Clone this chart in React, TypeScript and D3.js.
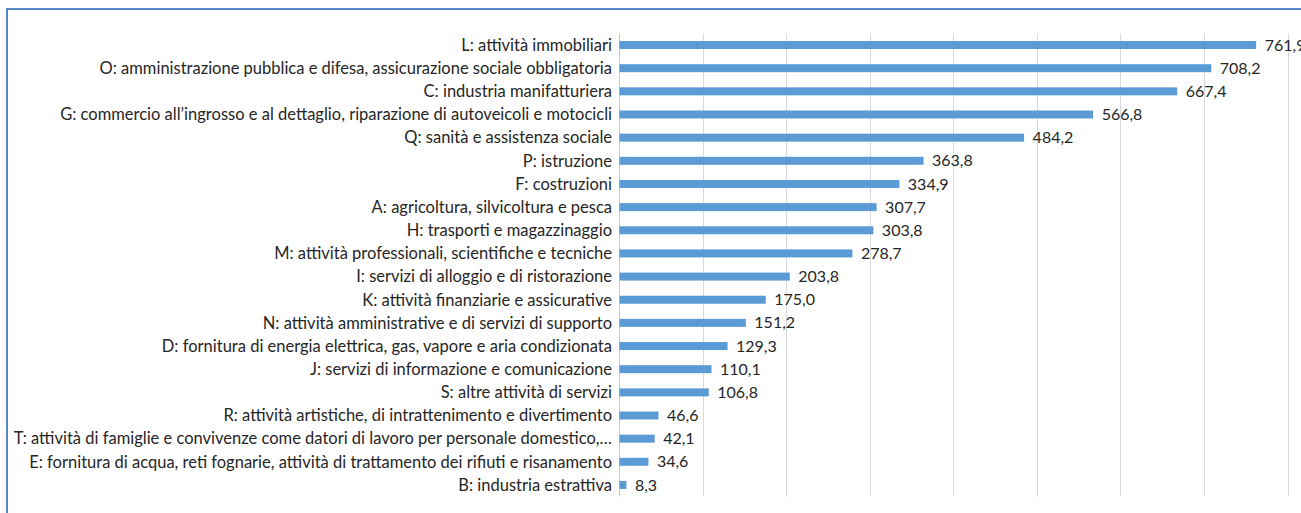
import React, { useEffect, useRef } from 'react';
import * as d3 from 'd3';

const categories = [
  'L: attività immobiliari',
  'O: amministrazione pubblica e difesa, assicurazione sociale obbligatoria',
  'C: industria manifatturiera',
  'G: commercio all’ingrosso e al dettaglio, riparazione di autoveicoli e motocicli',
  'Q: sanità e assistenza sociale',
  'P: istruzione',
  'F: costruzioni',
  'A: agricoltura, silvicoltura e pesca',
  'H: trasporti e magazzinaggio',
  'M: attività professionali, scientifiche e tecniche',
  'I: servizi di alloggio e di ristorazione',
  'K: attività finanziarie e assicurative',
  'N: attività amministrative e di servizi di supporto',
  'D: fornitura di energia elettrica, gas, vapore e aria condizionata',
  'J: servizi di informazione e comunicazione',
  'S: altre attività di servizi',
  'R: attività artistiche, di intrattenimento e divertimento',
  'T: attività di famiglie e convivenze come datori di lavoro per personale domestico,…',
  'E: fornitura di acqua, reti fognarie, attività di trattamento dei rifiuti e risanamento',
  'B: industria estrattiva',
];

const values = [
  761.9, 708.2, 667.4, 566.8, 484.2, 363.8, 334.9, 307.7, 303.8, 278.7,
  203.8, 175.0, 151.2, 129.3, 110.1, 106.8, 46.6, 42.1, 34.6, 8.3,
];

const gridTicks = [0, 100, 200, 300, 400, 500, 600, 700, 800];

const W = 1301;
const H = 513;
const FONT = 'Lato, "Open Sans", sans-serif';

export default function App() {
  const ref = useRef<SVGSVGElement>(null);

  useEffect(() => {
    const svg = d3.select(ref.current);
    svg.selectAll('*').remove();

    const x = d3.scaleLinear().domain([0, 800]).range([619, 1287.5]);
    const y = d3.scaleBand<string>()
      .domain(categories)
      .range([33.4, 496.6])
      .paddingInner(0.655)
      .paddingOuter(0.33);

    // sfondo e bordo del grafico
    svg.append('rect').attr('width', W).attr('height', H).attr('fill', '#fff');
    svg.append('rect')
      .attr('x', 7).attr('y', 9)
      .attr('width', 1310).attr('height', 520)
      .attr('fill', 'none')
      .attr('stroke', '#5b88c8')
      .attr('stroke-width', 2);

    // griglia verticale
    svg.append('g')
      .selectAll('line')
      .data(gridTicks)
      .enter().append('line')
      .attr('x1', (d) => Math.round(x(d)) + 0.5)
      .attr('x2', (d) => Math.round(x(d)) + 0.5)
      .attr('y1', 33.4)
      .attr('y2', 496.6)
      .attr('stroke', (d) => (d === 0 ? '#c8c8c8' : '#d9d9d9'))
      .attr('stroke-width', 1);

    const rows = categories.map((c, i) => ({ c, v: values[i] }));

    // barre
    svg.append('g')
      .selectAll('rect')
      .data(rows)
      .enter().append('rect')
      .attr('x', x(0) + 0.5)
      .attr('y', (d) => y(d.c)!)
      .attr('width', (d) => x(d.v) - x(0))
      .attr('height', y.bandwidth())
      .attr('fill', '#5b9bd5');

    // etichette categorie
    svg.append('g')
      .selectAll('text')
      .data(rows)
      .enter().append('text')
      .attr('x', 612)
      .attr('y', (d) => y(d.c)! + y.bandwidth() / 2)
      .attr('dy', '0.35em')
      .attr('text-anchor', 'end')
      .attr('font-family', FONT)
      .attr('font-size', 16.5)
      .attr('fill', '#262626')
      .text((d) => d.c);

    // etichette valori
    svg.append('g')
      .selectAll('text')
      .data(rows)
      .enter().append('text')
      .attr('x', (d) => x(d.v) + 9)
      .attr('y', (d) => y(d.c)! + y.bandwidth() / 2)
      .attr('dy', '0.35em')
      .attr('font-family', FONT)
      .attr('font-size', 16)
      .attr('fill', '#262626')
      .text((d) => d3.format('.1f')(d.v).replace('.', ','));
  }, []);

  return (
    <svg
      ref={ref}
      width={W}
      height={H}
      style={{ position: 'absolute', left: 0, top: 0, display: 'block' }}
    />
  );
}
